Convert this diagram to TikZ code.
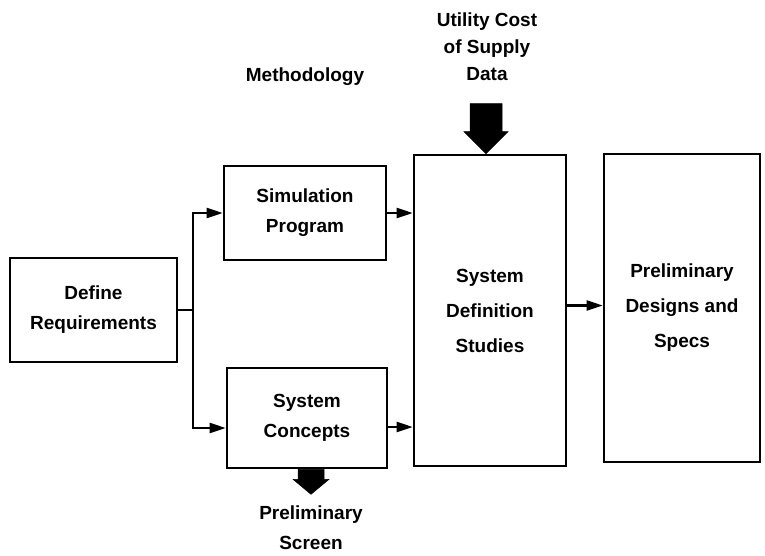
\documentclass[tikz,border=0pt]{standalone}
\usepackage{fontspec}
\setmainfont{Liberation Sans}
\usetikzlibrary{arrows.meta}
\begin{document}
\begin{tikzpicture}[x=1pt,y=-1pt,
  box/.style={draw, line width=2.6pt, align=center, inner sep=0pt,
    font=\bfseries\fontsize{19}{30}\selectfont},
  tallbox/.style={box, font=\bfseries\fontsize{19}{35}\selectfont},
  lbl/.style={align=center, inner sep=0pt, font=\bfseries\fontsize{19}{27}\selectfont},
  conn/.style={line width=2.2pt, -{Triangle[length=16pt,width=10pt]}},
  bigarrow/.style={fill=black, draw=black, line width=0.5pt}]
\useasboundingbox (0,0) rectangle (765,555);
\node[box, minimum width=167pt, minimum height=104pt] (def) at (93.5,310) {Define\\Requirements};
\node[box, minimum width=162pt, minimum height=94pt] (sim) at (305,213) {Simulation\\Program};
\node[box, minimum width=160pt, minimum height=100pt] (sc) at (307,418) {System\\Concepts};
\node[tallbox, minimum width=152pt, minimum height=311pt] (sds) at (490,310.5) {System\\Definition\\Studies};
\node[tallbox, minimum width=156pt, minimum height=308pt] (pd) at (682,308) {Preliminary\\Designs and\\Specs};
\node[lbl] (meth) at (305,77) {Methodology};
\node[lbl] (util) at (487,47) {Utility Cost\\of Supply\\Data};
\node[lbl, font=\bfseries\fontsize{19}{30}\selectfont] (scr) at (311,528) {Preliminary\\Screen};
% branch
\draw[line width=2.2pt] (def.east) -- ++(15,0) coordinate (br);
\coordinate (scin) at ([yshift=-10pt]sc.west);
\coordinate (scout) at ([yshift=-9pt]sc.east);
\coordinate (sdsout) at ([yshift=5pt]sds.east);
\draw[conn] (br) |- (sim.west);
\draw[conn] (br) |- (scin);
\draw[conn] (sim.east) -- (sds.west |- sim.east);
\draw[conn] (scout) -- (sds.west |- scout);
\draw[conn] (sdsout) -- (pd.west |- sdsout);
% big arrows
\coordinate (tip1) at ([xshift=-4pt]sds.north);
\fill[bigarrow] (tip1) -- ++(-22,-22) -- ++(6,0) -- ++(0,-28) -- ++(32,0) -- ++(0,28) -- ++(6,0) -- cycle;
\coordinate (tail2) at ([xshift=4pt]sc.south);
\fill[bigarrow] ([xshift=-13pt]tail2) -- ++(0,10) -- ++(-5,0) -- ++(18,15) -- ++(18,-15) -- ++(-5,0) -- ++(0,-10) -- cycle;
\end{tikzpicture}
\end{document}
